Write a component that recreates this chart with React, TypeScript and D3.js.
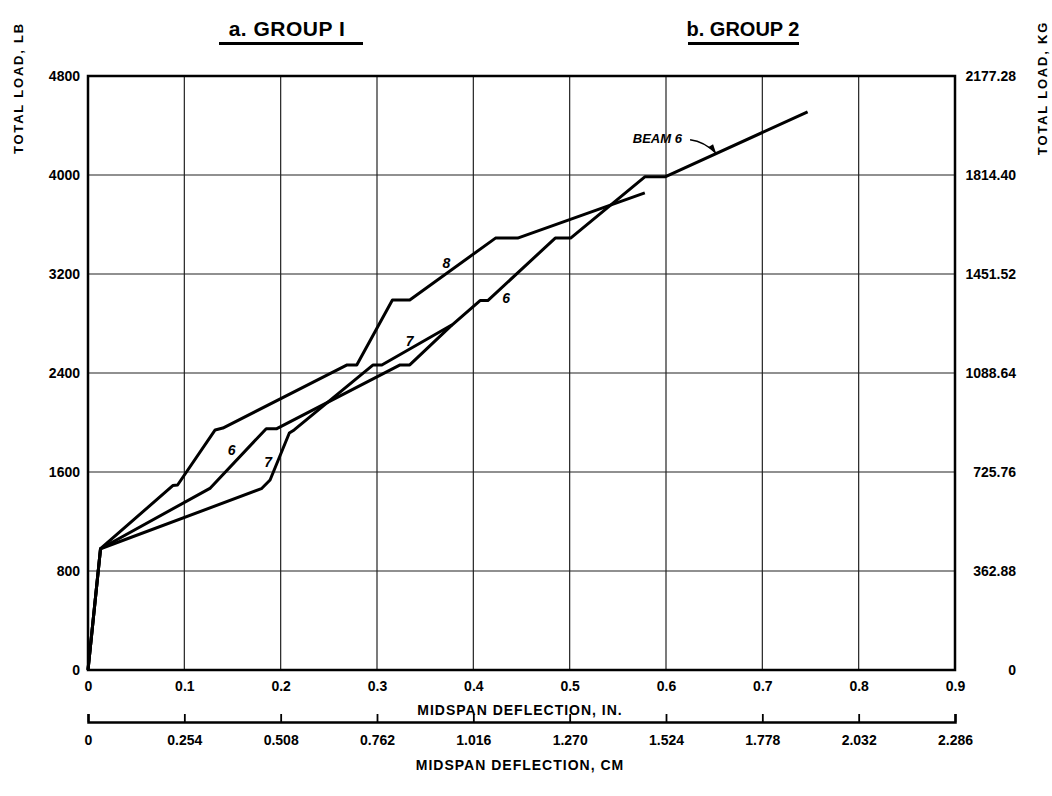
import React, { useEffect, useRef } from 'react';
import * as d3 from 'd3';

// axis ticks
const loadTicksLb = [0, 800, 1600, 2400, 3200, 4000, 4800];
const loadTicksKg = [0, 362.88, 725.76, 1088.64, 1451.52, 1814.4, 2177.28];
const kgLabels = ['0', '362.88', '725.76', '1088.64', '1451.52', '1814.40', '2177.28'];
const deflTicksIn = [0, 0.1, 0.2, 0.3, 0.4, 0.5, 0.6, 0.7, 0.8, 0.9];
const inLabels = ['0', '0.1', '0.2', '0.3', '0.4', '0.5', '0.6', '0.7', '0.8', '0.9'];
const deflTicksCm = [0, 0.254, 0.508, 0.762, 1.016, 1.27, 1.524, 1.778, 2.032, 2.286];
const cmLabels = ['0', '0.254', '0.508', '0.762', '1.016', '1.270', '1.524', '1.778', '2.032', '2.286'];

// curves (deflection in., load lb)
const beam6Defl = [0, 0.013, 0.127, 0.185, 0.196, 0.324, 0.334, 0.376, 0.407, 0.415, 0.485, 0.501, 0.578, 0.599, 0.747];
const beam6Load = [0, 980, 1470, 1950, 1950, 2465, 2465, 2775, 2985, 2985, 3490, 3490, 3985, 3985, 4510];

const beam7Defl = [0, 0.013, 0.18, 0.189, 0.209, 0.214, 0.296, 0.305, 0.378];
const beam7Load = [0, 980, 1465, 1535, 1915, 1940, 2465, 2465, 2790];

const beam8Defl = [0, 0.013, 0.088, 0.093, 0.132, 0.14, 0.269, 0.279, 0.316, 0.334, 0.423, 0.446, 0.578];
const beam8Load = [0, 980, 1490, 1495, 1940, 1955, 2465, 2465, 2990, 2990, 3490, 3490, 3855];

const curveLabelText = ['6', '7', '8', '7', '6'];
const curveLabelDefl = [0.149, 0.187, 0.372, 0.334, 0.434];
const curveLabelLoad = [1780, 1680, 3290, 2660, 3005];

interface Pt {
  defl: number;
  load: number;
}

const zip = (xs: number[], ys: number[]): Pt[] =>
  xs.map((x, i) => ({ defl: x, load: ys[i] }));

const FONT = "'Liberation Sans', Arial, sans-serif";

export default function App() {
  const ref = useRef<SVGSVGElement>(null);

  useEffect(() => {
    const width = 1052;
    const height = 796;
    const left = 88;
    const right = 955;
    const top = 76;
    const bottom = 670;

    const svg = d3.select(ref.current);
    svg.selectAll('*').remove();

    svg
      .append('rect')
      .attr('width', width)
      .attr('height', height)
      .attr('fill', '#fff');

    const xScale = d3.scaleLinear().domain([0, 0.9]).range([left, right]);
    const xCm = d3.scaleLinear().domain([0, 2.286]).range([left, right]);
    const yScale = d3.scaleLinear().domain([0, 4800]).range([bottom, top]);
    const yKg = d3.scaleLinear().domain([0, 2177.28]).range([bottom, top]);

    // grid
    const grid = svg.append('g').attr('stroke', '#222').attr('stroke-width', 1.2);
    grid
      .selectAll('line.v')
      .data(deflTicksIn)
      .enter()
      .append('line')
      .attr('x1', (d) => xScale(d))
      .attr('x2', (d) => xScale(d))
      .attr('y1', top)
      .attr('y2', bottom);
    grid
      .selectAll('line.h')
      .data(loadTicksLb)
      .enter()
      .append('line')
      .attr('x1', left)
      .attr('x2', right)
      .attr('y1', (d) => yScale(d))
      .attr('y2', (d) => yScale(d));

    svg
      .append('rect')
      .attr('x', left)
      .attr('y', top)
      .attr('width', right - left)
      .attr('height', bottom - top)
      .attr('fill', 'none')
      .attr('stroke', '#000')
      .attr('stroke-width', 2.5);

    const styleAxis = (g: d3.Selection<SVGGElement, unknown, null, undefined>) => {
      g.selectAll('text')
        .attr('font-family', FONT)
        .attr('font-weight', 'bold')
        .attr('font-size', 14)
        .attr('fill', '#000');
    };

    // left axis
    const leftAxis = svg
      .append('g')
      .attr('transform', `translate(${left}, 0)`)
      .call(d3.axisLeft(yScale).tickValues(loadTicksLb).tickSize(0).tickPadding(8).tickFormat(d3.format('d')));
    leftAxis.select('.domain').remove();
    styleAxis(leftAxis);

    // right axis
    const rightAxis = svg
      .append('g')
      .attr('transform', `translate(${right}, 0)`)
      .call(
        d3
          .axisRight(yKg)
          .tickValues(loadTicksKg)
          .tickSize(0)
          .tickFormat((d, i) => kgLabels[i])
      );
    rightAxis.select('.domain').remove();
    styleAxis(rightAxis);
    rightAxis.selectAll('text').attr('text-anchor', 'end').attr('x', 61);

    // bottom inch axis
    const inAxis = svg
      .append('g')
      .attr('transform', `translate(0, ${bottom})`)
      .call(
        d3
          .axisBottom(xScale)
          .tickValues(deflTicksIn)
          .tickSize(0)
          .tickPadding(11)
          .tickFormat((d, i) => inLabels[i])
      );
    inAxis.select('.domain').remove();
    styleAxis(inAxis);

    // cm axis
    const cmAxis = svg
      .append('g')
      .attr('transform', `translate(0, 722)`)
      .call(
        d3
          .axisBottom(xCm)
          .tickValues(deflTicksCm)
          .tickSizeInner(-8)
          .tickSizeOuter(-8)
          .tickPadding(13)
          .tickFormat((d, i) => cmLabels[i])
      );
    cmAxis.select('.domain').attr('stroke-width', 2.5);
    cmAxis.selectAll('line').attr('stroke-width', 1.8);
    styleAxis(cmAxis);

    const addText = (
      x: number,
      y: number,
      text: string,
      size: number,
      opts: { rotate?: boolean; italic?: boolean; spacing?: number; anchor?: string } = {}
    ) =>
      svg
        .append('text')
        .attr('transform', `translate(${x}, ${y})${opts.rotate ? ' rotate(-90)' : ''}`)
        .attr('text-anchor', opts.anchor || 'middle')
        .attr('font-family', FONT)
        .attr('font-weight', 'bold')
        .attr('font-style', opts.italic ? 'italic' : 'normal')
        .attr('font-size', size)
        .attr('letter-spacing', opts.spacing || 0)
        .attr('fill', '#000')
        .text(text);

    // titles
    addText(287, 36, 'a. GROUP I', 21, { spacing: 0.5 });
    addText(743, 36, 'b. GROUP 2', 20, { spacing: 0 });
    svg.append('rect').attr('x', 219).attr('y', 42).attr('width', 144).attr('height', 3).attr('fill', '#000');
    svg.append('rect').attr('x', 688).attr('y', 42).attr('width', 111).attr('height', 3).attr('fill', '#000');

    addText(23, 88, 'TOTAL LOAD, LB', 13, { rotate: true, spacing: 1.8 });
    addText(1047, 88, 'TOTAL LOAD, KG', 13, { rotate: true, spacing: 1.8 });
    addText(520, 715, 'MIDSPAN DEFLECTION, IN.', 14, { spacing: 1 });
    addText(520, 770, 'MIDSPAN DEFLECTION, CM', 14, { spacing: 1 });

    // curves
    const line = d3
      .line<Pt>()
      .x((d) => xScale(d.defl))
      .y((d) => yScale(d.load));

    const curves = [zip(beam6Defl, beam6Load), zip(beam7Defl, beam7Load), zip(beam8Defl, beam8Load)];
    svg
      .selectAll('path.curve')
      .data(curves)
      .enter()
      .append('path')
      .attr('class', 'curve')
      .attr('d', (d) => line(d))
      .attr('fill', 'none')
      .attr('stroke', '#000')
      .attr('stroke-width', 3)
      .attr('stroke-linejoin', 'round');

    // curve labels
    curveLabelText.forEach((t, i) => {
      addText(xScale(curveLabelDefl[i]), yScale(curveLabelLoad[i]) + 5, t, 14, { italic: true });
    });

    // beam 6 callout
    addText(xScale(0.591), yScale(4255), 'BEAM 6', 13, { italic: true, anchor: 'middle' });
    const arrowFrom = { defl: 0.625, load: 4285 };
    const arrowTo = { defl: 0.652, load: 4175 };
    svg
      .append('path')
      .attr(
        'd',
        `M${xScale(arrowFrom.defl)},${yScale(arrowFrom.load)} Q${xScale(0.64)},${yScale(4270)} ${xScale(arrowTo.defl)},${yScale(arrowTo.load)}`
      )
      .attr('fill', 'none')
      .attr('stroke', '#000')
      .attr('stroke-width', 1.5);
    const tipX = xScale(arrowTo.defl);
    const tipY = yScale(arrowTo.load);
    svg
      .append('path')
      .attr('d', `M${tipX},${tipY} L${tipX - 8},${tipY - 6} L${tipX - 3},${tipY - 9} Z`)
      .attr('fill', '#000');
  }, []);

  return (
    <svg
      ref={ref}
      width={1052}
      height={796}
      style={{ position: 'absolute', left: 0, top: 0 }}
    />
  );
}
